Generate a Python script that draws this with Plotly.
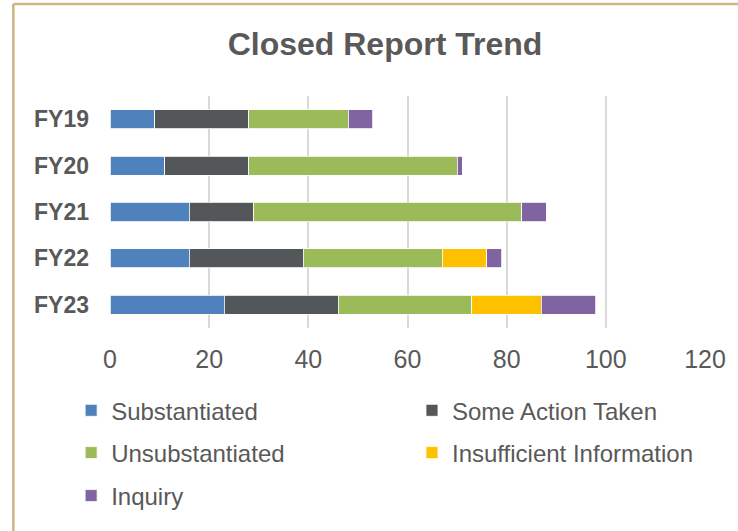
import plotly.graph_objects as go

years = ["FY19", "FY20", "FY21", "FY22", "FY23"]
substantiated = [9, 11, 16, 16, 23]
some_action = [19, 17, 13, 23, 23]
unsubstantiated = [20, 42, 54, 28, 27]
insufficient = [0, 0, 0, 9, 14]
inquiry = [5, 1, 5, 3, 11]

FONT = "Liberation Sans, Arial, Helvetica, sans-serif"
GREY = "#595959"

series = [
    ("Substantiated", substantiated, "#4F81BD"),
    ("Some Action Taken", some_action, "#53575A"),
    ("Unsubstantiated", unsubstantiated, "#9BBB59"),
    ("Insufficient Information", insufficient, "#FFC000"),
    ("Inquiry", inquiry, "#8064A2"),
]
legend_spots = [(71, 410.7), (413, 410.7), (71, 453), (413, 453), (71, 496)]

# plot area sits at x 110..707 px, y 96..328 px
def px_x(x):
    return (x - 110) / 597

def px_y(y):
    return (328 - y) / 232

fig = go.Figure()
legends = {}
for i, (name, vals, color) in enumerate(series):
    key = "legend" if i == 0 else f"legend{i + 1}"
    fig.add_trace(go.Bar(
        y=years, x=vals, name=name, orientation="h",
        marker=dict(color=color, line=dict(color="white", width=0.8)),
        legend=key,
    ))
    lx, ly = legend_spots[i]
    legends[key] = dict(
        orientation="h", x=px_x(lx), xanchor="left",
        y=px_y(ly), yanchor="middle", bgcolor="rgba(0,0,0,0)",
        font=dict(family=FONT, size=24, color=GREY),
    )

fig.update_layout(
    width=738, height=531,
    margin=dict(l=110, r=31, t=96, b=203),
    paper_bgcolor="white", plot_bgcolor="white",
    barmode="stack", bargap=0.59,
    title=dict(text="<b>Closed Report Trend</b>", x=385 / 738, xanchor="center",
               xref="container", y=1 - 44 / 531, yanchor="middle", yref="container",
               font=dict(family=FONT, size=32, color=GREY)),
    xaxis=dict(range=[0, 120], dtick=20, showgrid=True, gridcolor="#D9D9D9", gridwidth=1.5,
               zeroline=False, showline=False, ticks="", ticklabelstandoff=14,
               tickfont=dict(family=FONT, size=25, color=GREY), fixedrange=True),
    yaxis=dict(categoryorder="array", categoryarray=years, autorange="reversed",
               showgrid=False, zeroline=False, showline=False, ticks="",
               ticklabelstandoff=20,
               tickfont=dict(family=FONT, size=23, color=GREY, weight="bold")),
    showlegend=True,
    shapes=[
        dict(type="line", xref="paper", yref="paper", x0=px_x(13), x1=px_x(13),
             y0=px_y(4), y1=px_y(560), line=dict(color="#CDB682", width=2.5)),
        dict(type="line", xref="paper", yref="paper", x0=px_x(13), x1=px_x(780),
             y0=px_y(4), y1=px_y(4), line=dict(color="#CDB682", width=2.5)),
    ],
)
fig.update_layout(**legends)

fig.write_html("out.html", config={"displayModeBar": False},
               post_script="document.body.style.margin='0';")
